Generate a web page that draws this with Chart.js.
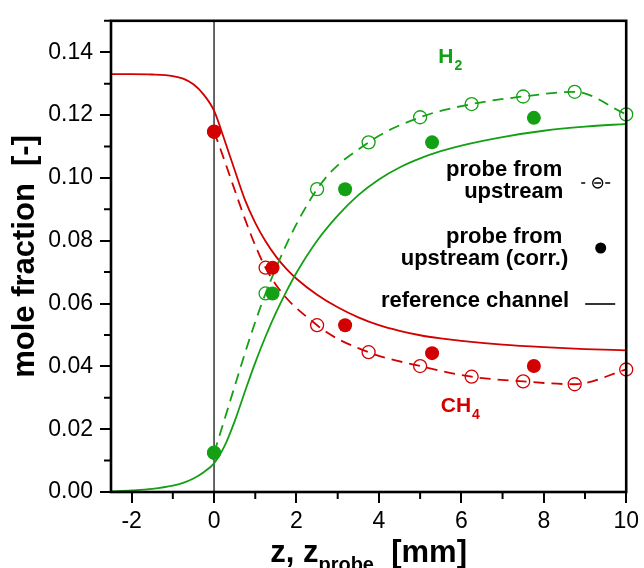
<!DOCTYPE html>
<html>
<head>
<meta charset="utf-8">
<script src="https://cdn.jsdelivr.net/npm/chart.js@4.4.1/dist/chart.umd.min.js"></script>
<style>
  html, body { margin: 0; padding: 0; background: #fff; }
  .chart-container { width: 644px; height: 568px; }
</style>
</head>
<body>
<div class="chart-container"><canvas id="chartContext" width="644" height="568"></canvas></div>
<script>
// Reference channel (solid lines), z in mm
const refZ   = [-2.5, -2, -1.5, -1, -0.75, -0.5, -0.25, 0, 0.25, 0.5, 0.75, 1, 1.25, 1.5, 1.75, 2, 2.5, 3, 3.5, 4, 4.5, 5, 5.5, 6, 7, 8, 9, 10];
const refH2  = [0.0002, 0.0005, 0.0010, 0.0020, 0.0029, 0.0043, 0.0063, 0.0091, 0.0145, 0.0225, 0.0320, 0.0412, 0.0495, 0.0570, 0.0637, 0.0698, 0.0800, 0.0880, 0.0945, 0.0995, 0.1033, 0.1062, 0.1085, 0.1103, 0.1130, 0.1150, 0.1163, 0.1172];
const refCH4 = [0.1330, 0.1330, 0.1329, 0.1324, 0.1316, 0.1298, 0.1265, 0.1214, 0.1122, 0.1025, 0.0930, 0.0857, 0.0798, 0.0750, 0.0711, 0.0679, 0.0628, 0.0588, 0.0556, 0.0531, 0.0513, 0.0499, 0.0489, 0.0481, 0.0469, 0.0461, 0.0455, 0.0451];

// Probe from upstream (open circles, dashed)
const probeZ   = [0, 1.25, 2.5, 3.75, 5, 6.25, 7.5, 8.75, 10];
const probeH2  = [0.0125, 0.0632, 0.0964, 0.1113, 0.1193, 0.1235, 0.1259, 0.1274, 0.1202];
const probeCH4 = [0.1147, 0.0714, 0.0531, 0.0445, 0.0401, 0.0367, 0.0352, 0.0343, 0.0390];

// Probe from upstream, corrected position (filled dots)
const corrZ   = [0, 1.42, 3.18, 5.29, 7.76];
const corrH2  = [0.0125, 0.0632, 0.0964, 0.1113, 0.1191];
const corrCH4 = [0.1147, 0.0714, 0.0531, 0.0442, 0.0401];

// Axis ticks (minor ticks have empty labels)
const xTickValues = [-2, -1, 0, 1, 2, 3, 4, 5, 6, 7, 8, 9, 10];
const xTickLabels = ["-2", "", "0", "", "2", "", "4", "", "6", "", "8", "", "10"];
const yTickValues = [0, 0.01, 0.02, 0.03, 0.04, 0.05, 0.06, 0.07, 0.08, 0.09, 0.10, 0.11, 0.12, 0.13, 0.14, 0.15];
const yTickLabels = ["0.00", "", "0.02", "", "0.04", "", "0.06", "", "0.08", "", "0.10", "", "0.12", "", "0.14", ""];

const GREEN = "#14a014";
const RED = "#d20000";
const FONT = '"Liberation Sans", Arial, sans-serif';

function pts(xs, ys) {
    return xs.map((x, i) => ({ x: x, y: ys[i] }));
}

// Frame, minor ticks, x = 0 marker, x-axis title, labels and the legend box
const decorations = {
    id: "decorations",
    beforeDatasetsDraw(chart) {
        const { ctx, chartArea: a, scales: { x } } = chart;
        const x0 = x.getPixelForValue(0);
        ctx.save();
        ctx.strokeStyle = "#000";
        ctx.lineWidth = 1.2;
        ctx.beginPath();
        ctx.moveTo(x0, a.top);
        ctx.lineTo(x0, a.bottom);
        ctx.stroke();
        ctx.restore();
    },
    afterDraw(chart) {
        const { ctx, chartArea: a, scales: { x, y } } = chart;
        ctx.save();

        // frame
        ctx.strokeStyle = "#000";
        ctx.lineWidth = 2.6;
        ctx.strokeRect(a.left, a.top, a.right - a.left, a.bottom - a.top);

        // minor ticks (shorter)
        ctx.lineWidth = 2;
        ctx.beginPath();
        x.ticks.forEach((t, i) => {
            if (xTickLabels[i] === "") {
                const px = x.getPixelForValue(t.value);
                ctx.moveTo(px, a.bottom);
                ctx.lineTo(px, a.bottom + 7);
            }
        });
        y.ticks.forEach((t, i) => {
            if (yTickLabels[i] === "") {
                const py = y.getPixelForValue(t.value);
                ctx.moveTo(a.left - 7, py);
                ctx.lineTo(a.left, py);
            }
        });
        ctx.stroke();

        // x axis title with subscript
        ctx.fillStyle = "#000";
        ctx.textBaseline = "alphabetic";
        ctx.textAlign = "left";
        const big = "bold 31px " + FONT;
        const small = "bold 20px " + FONT;
        ctx.font = big;
        const w1 = ctx.measureText("z, z").width;
        const w3 = ctx.measureText("  [mm]").width;
        ctx.font = small;
        const w2 = ctx.measureText("probe").width;
        let tx = (a.left + a.right) / 2 - (w1 + w2 + w3) / 2;
        ctx.font = big;
        ctx.fillText("z, z", tx, 562);
        ctx.font = small;
        ctx.fillText("probe", tx + w1, 571);
        ctx.font = big;
        ctx.fillText("  [mm]", tx + w1 + w2, 562);

        // species labels
        ctx.font = "bold 21px " + FONT;
        ctx.fillStyle = GREEN;
        let lx = x.getPixelForValue(5.44);
        let ly = y.getPixelForValue(0.1367);
        ctx.fillText("H", lx, ly);
        let hw = ctx.measureText("H").width;
        ctx.font = "bold 14px " + FONT;
        ctx.fillText("2", lx + hw + 1, ly + 7);

        ctx.font = "bold 21px " + FONT;
        ctx.fillStyle = RED;
        lx = x.getPixelForValue(5.5);
        ly = y.getPixelForValue(0.0254);
        ctx.fillText("CH", lx, ly);
        hw = ctx.measureText("CH").width;
        ctx.font = "bold 14px " + FONT;
        ctx.fillText("4", lx + hw + 1, ly + 7);

        // legend text
        ctx.fillStyle = "#000";
        ctx.font = "bold 22px " + FONT;
        ctx.textAlign = "right";
        const r = a.right;
        ctx.fillText("probe from", r - 64, 176);
        ctx.fillText("upstream", r - 63, 198);
        ctx.fillText("probe from", r - 64, 243);
        ctx.fillText("upstream (corr.)", r - 58, 265);
        ctx.fillText("reference channel", r - 57, 307);

        // legend symbols
        ctx.strokeStyle = "#000";
        ctx.lineWidth = 1.3;
        const sy = 183;
        ctx.beginPath();
        ctx.moveTo(r - 45, sy); ctx.lineTo(r - 41, sy);
        ctx.moveTo(r - 32, sy); ctx.lineTo(r - 25, sy);
        ctx.moveTo(r - 21, sy); ctx.lineTo(r - 16, sy);
        ctx.stroke();
        ctx.beginPath();
        ctx.arc(r - 28.5, sy, 5, 0, Math.PI * 2);
        ctx.stroke();

        ctx.beginPath();
        ctx.arc(r - 25.5, 248, 5.5, 0, Math.PI * 2);
        ctx.fill();

        ctx.lineWidth = 1.6;
        ctx.beginPath();
        ctx.moveTo(r - 41, 304);
        ctx.lineTo(r - 11, 304);
        ctx.stroke();

        ctx.restore();
    }
};

const context = document.getElementById("chartContext");

new Chart(context, {
    type: "line",
    data: {
        datasets: [
            {
                label: "H2 probe (corr.)",
                data: pts(corrZ, corrH2),
                showLine: false,
                pointRadius: 7,
                pointBackgroundColor: GREEN,
                pointBorderColor: GREEN,
                pointBorderWidth: 0,
                clip: false,
                order: 0,
            },
            {
                label: "CH4 probe (corr.)",
                data: pts(corrZ, corrCH4),
                showLine: false,
                pointRadius: 7,
                pointBackgroundColor: RED,
                pointBorderColor: RED,
                pointBorderWidth: 0,
                clip: false,
                order: 0,
            },
            {
                label: "H2 probe",
                data: pts(probeZ, probeH2),
                borderColor: GREEN,
                borderWidth: 1.8,
                borderDash: [11, 7],
                cubicInterpolationMode: "monotone",
                pointRadius: 6.5,
                pointBorderWidth: 1.3,
                pointBorderColor: GREEN,
                pointBackgroundColor: "rgba(0,0,0,0)",
                clip: false,
                order: 1,
            },
            {
                label: "CH4 probe",
                data: pts(probeZ, probeCH4),
                borderColor: RED,
                borderWidth: 1.8,
                borderDash: [11, 7],
                cubicInterpolationMode: "monotone",
                pointRadius: 6.5,
                pointBorderWidth: 1.3,
                pointBorderColor: RED,
                pointBackgroundColor: "rgba(0,0,0,0)",
                clip: false,
                order: 1,
            },
            {
                label: "H2 reference",
                data: pts(refZ, refH2),
                borderColor: GREEN,
                borderWidth: 1.8,
                cubicInterpolationMode: "monotone",
                pointRadius: 0,
                order: 2,
            },
            {
                label: "CH4 reference",
                data: pts(refZ, refCH4),
                borderColor: RED,
                borderWidth: 1.8,
                cubicInterpolationMode: "monotone",
                pointRadius: 0,
                order: 2,
            },
        ],
    },
    options: {
        responsive: false,
        animation: false,
        layout: { padding: { top: 16, right: 16, left: 0, bottom: 0 } },
        plugins: {
            legend: { display: false },
            tooltip: { enabled: false },
        },
        scales: {
            x: {
                type: "linear",
                min: -2.5,
                max: 10,
                afterBuildTicks: (s) => { s.ticks = xTickValues.map((v) => ({ value: v })); },
                afterFit: (s) => { s.height = 76; },
                border: { display: false },
                grid: {
                    drawOnChartArea: false,
                    tickLength: 11,
                    lineWidth: 2,
                    tickColor: (c) => (xTickLabels[c.index] ? "#000" : "rgba(0,0,0,0)"),
                },
                ticks: {
                    autoSkip: false,
                    maxRotation: 0,
                    padding: 5,
                    color: "#000",
                    font: { family: FONT, size: 23 },
                    callback: (v, i) => xTickLabels[i],
                },
            },
            y: {
                type: "linear",
                min: 0,
                max: 0.15,
                afterBuildTicks: (s) => { s.ticks = yTickValues.map((v) => ({ value: v })); },
                afterFit: (s) => { s.width = 111; },
                border: { display: false },
                grid: {
                    drawOnChartArea: false,
                    tickLength: 11,
                    lineWidth: 2,
                    tickColor: (c) => (yTickLabels[c.index] ? "#000" : "rgba(0,0,0,0)"),
                },
                ticks: {
                    autoSkip: false,
                    padding: 7,
                    color: "#000",
                    font: { family: FONT, size: 23 },
                    callback: (v, i) => yTickLabels[i],
                },
                title: {
                    display: true,
                    text: "mole fraction  [-]",
                    color: "#000",
                    font: { family: FONT, size: 31, weight: "bold" },
                    padding: { top: 7, bottom: 0 },
                },
            },
        },
    },
    plugins: [decorations],
});
</script>
</body>
</html>
